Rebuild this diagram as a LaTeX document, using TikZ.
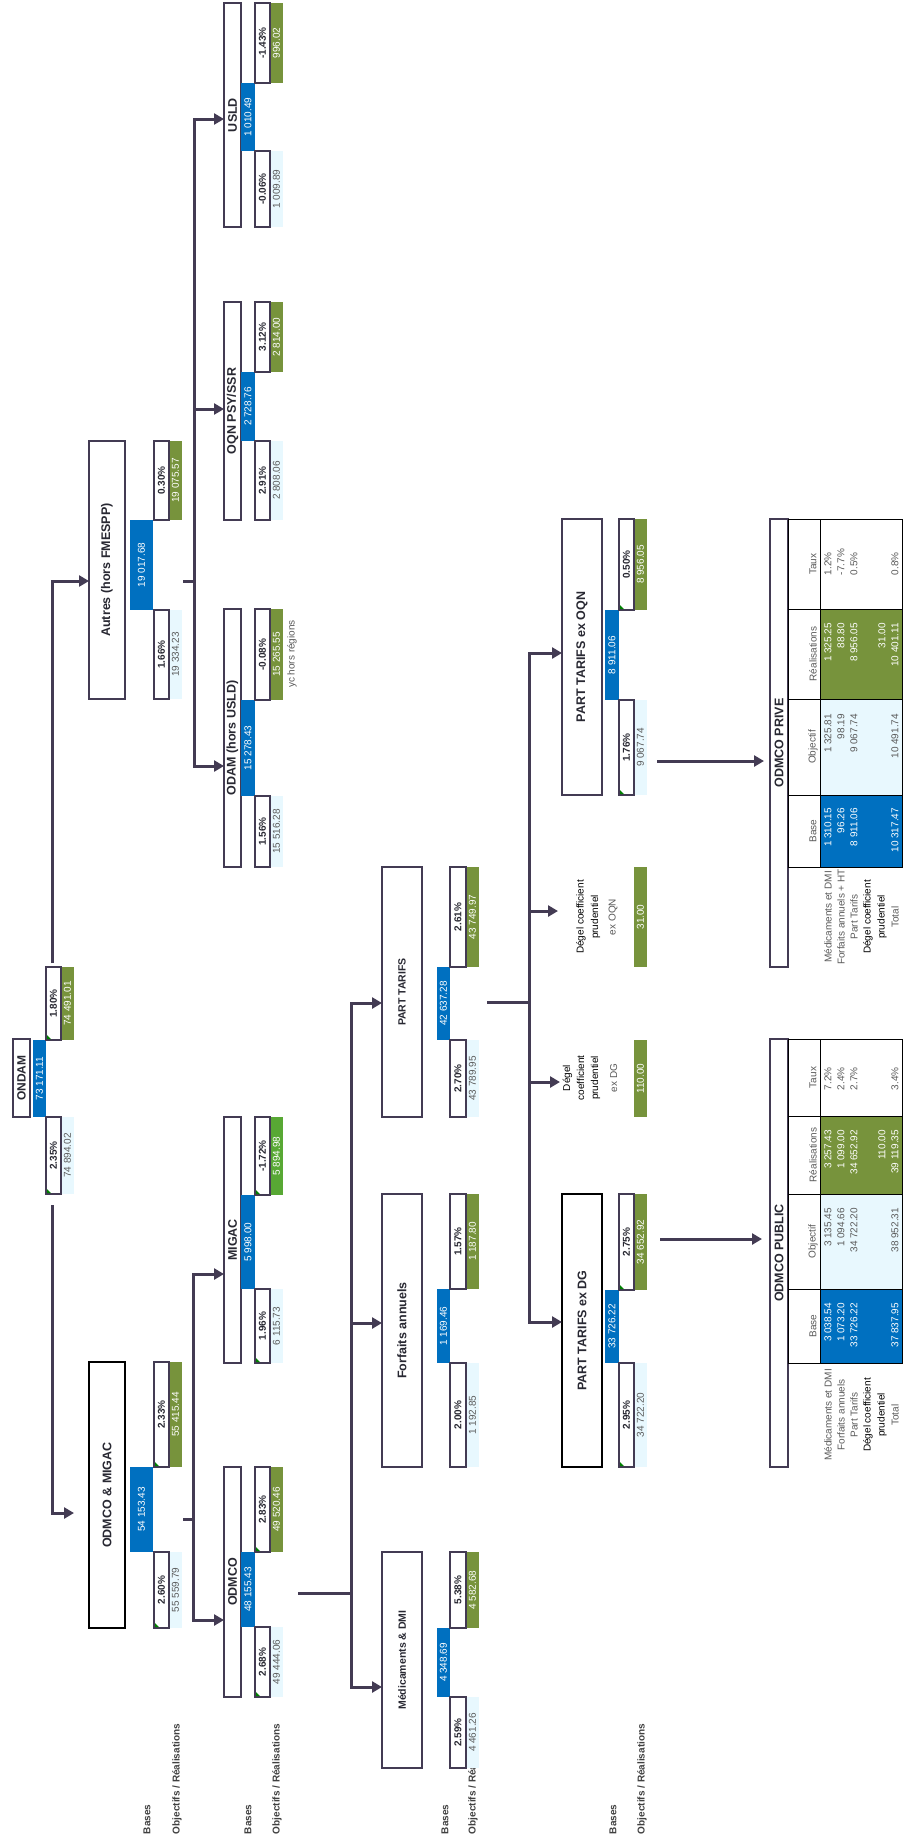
\documentclass[tikz,border=0pt]{standalone}
\usepackage{fontspec}
\setmainfont{Liberation Sans}
\usetikzlibrary{arrows.meta,calc}

\definecolor{linec}{RGB}{67,59,83}
\definecolor{bluec}{RGB}{0,112,192}
\definecolor{greenc}{RGB}{119,147,60}
\definecolor{bgreen}{RGB}{88,168,52}
\definecolor{lbluec}{RGB}{232,248,254}
\definecolor{txtgray}{RGB}{90,90,90}
\definecolor{titc}{RGB}{40,40,50}
\definecolor{lblc}{RGB}{64,64,64}
\definecolor{cmtgreen}{RGB}{0,128,0}

\newcommand\ttlfont{\bfseries\fontsize{12.5}{14}\selectfont}
\newcommand\smtfont{\bfseries\fontsize{10.5}{12}\selectfont}
\newcommand\valfont{\fontsize{10}{12}\selectfont}
\newcommand\pctfont{\bfseries\fontsize{10}{12}\selectfont}
\newcommand\lblfont{\bfseries\fontsize{10}{12}\selectfont}

% generic rotated box: name, x1, x2, y1, y2, style, text
\newcommand\bx[7]{%
 \pgfmathsetmacro\bxw{#5-#4}\pgfmathsetmacro\bxh{#3-#2}%
 \node[box,#6,minimum width=\bxw pt,minimum height=\bxh pt] (#1) at ({(#2+#3)/2},{(#4+#5)/2}) {#7};}
\newcommand\setcols[7]{\def\cTa{#1}\def\cTb{#2}\def\cBa{#3}\def\cBb{#4}\def\cPa{#5}\def\cPb{#6}\def\cDb{#7}}
\newcommand\setys[4]{\def\yA{#1}\def\yB{#2}\def\yC{#3}\def\yD{#4}}
\newcommand\grptitle[3]{\bx{#1}{\cTa}{\cTb}{\yA}{\yD}{tbox,#2}{#3}}
\newcommand\gvals[7]{%
 \bx{#1b}{\cBa}{\cBb}{\yB}{\yC}{bluebox}{#2}%
 \bx{#1du}{\cPb}{\cDb}{\yA}{\yB}{#5}{#4}%
 \bx{#1dl}{\cPb}{\cDb}{\yC}{\yD}{lbbox}{#7}%
 \bx{#1pu}{\cPa}{\cPb}{\yA}{\yB}{pctbox}{#3}%
 \bx{#1pl}{\cPa}{\cPb}{\yC}{\yD}{pctbox}{#6}}
\newcommand\cmts{%
 \fill[cmtgreen] ({\cPa+1},{\yB-1}) -- ++(4,0) -- ++(-4,-4) -- cycle;
 \fill[cmtgreen] ({\cPa+1},{\yD-1}) -- ++(4,0) -- ++(-4,-4) -- cycle;}
% table column: name, y1, y2, header, fill
\newcommand\tcol[5]{%
 \bx{#1h}{788}{820}{#2}{#3}{tcell,fill=white}{}%
 \bx{#1d}{820}{902}{#2}{#3}{tcell,#5}{}%
 \node[txt,font=\valfont,text=txtgray] (#1t) at (813,{(#2+#3)/2}) {#4};}
% table values: prefix, y anchor, style, 5 values
\newcommand\tvals[8]{%
 \node[tv,#3] (#1a) at (828,#2) {#4};
 \node[tv,#3] (#1b) at (841,#2) {#5};
 \node[tv,#3] (#1c) at (854,#2) {#6};
 \node[tv,#3] (#1d) at (882,#2) {#7};
 \node[tv,#3] (#1e) at (895,#2) {#8};}
% table row labels: prefix, y center, 6 labels
\newcommand\tlabels[8]{%
 \node[txt,font=\valfont,text=txtgray] (#1a) at (828,#2) {#3};
 \node[txt,font=\valfont,text=txtgray] (#1b) at (841,#2) {#4};
 \node[txt,font=\valfont,text=txtgray] (#1c) at (854,#2) {#5};
 \node[txt,font=\valfont,text=black] (#1d) at (868,#2) {#6};
 \node[txt,font=\valfont,text=black] (#1e) at (882,#2) {#7};
 \node[txt,font=\valfont,text=txtgray] (#1f) at (895,#2) {#8};}

\begin{document}
\begin{tikzpicture}[x=1pt,y=-1pt,
 box/.style={rotate=90,inner sep=0pt,outer sep=0pt,anchor=center,align=center},
 tbox/.style={draw=linec,line width=1.6pt,fill=white,text=titc,font=\ttlfont},
 bluebox/.style={fill=bluec,text=white,font=\valfont},
 pctbox/.style={draw=linec,line width=1.5pt,fill=white,text=titc,font=\pctfont},
 gbox/.style={fill=greenc,text=white,font=\valfont},
 bgbox/.style={fill=bgreen,text=white,font=\valfont},
 lbbox/.style={fill=lbluec,text=txtgray,font=\valfont},
 tcell/.style={draw=black,line width=0.8pt},
 txt/.style={rotate=90,inner sep=0pt,outer sep=0pt},
 tv/.style={txt,anchor=east,font=\valfont},
 lbl/.style={txt,anchor=west,font=\lblfont,text=lblc},
 arr/.style={draw=linec,line width=3pt,line join=miter,-{Triangle[length=10pt,width=11pt]}},
 ln/.style={draw=linec,line width=3pt}]
\useasboundingbox (0,0) rectangle (904,1840);
\fill[white] (0,0) rectangle (904,1840);

% ---- side labels
\foreach \nm/\xa/\xb in {la/147/177,lb/248/277,lc/445/473,ld/613/642}{
 \node[lbl] (\nm1) at (\xa,1834) {Bases};
 \node[lbl] (\nm2) at (\xb,1834) {Objectifs / Réalisations};}

% ---- coordinates of connectors
\coordinate (o1) at (52,963);   \coordinate (o1c) at (52,581);
\coordinate (o2) at (52,1205);  \coordinate (o2c) at (52,1513); \coordinate (o2e) at (74,1513);
\coordinate (a0) at (183,581);  \coordinate (a1) at (194,581);
\coordinate (aT) at (194,119);  \coordinate (aM) at (194,409);  \coordinate (aB) at (194,766);
\coordinate (m0) at (183,1519); \coordinate (m1) at (193,1519);
\coordinate (mT) at (193,1274); \coordinate (mB) at (193,1620);
\coordinate (d0) at (298,1593); \coordinate (d1) at (351,1593);
\coordinate (dT) at (351,1003); \coordinate (dM) at (351,1323); \coordinate (dB) at (351,1687);
\coordinate (p0) at (487,1002); \coordinate (p1) at (529,1002);
\coordinate (pT) at (529,653);  \coordinate (pM1) at (529,911); \coordinate (pM2) at (529,1082); \coordinate (pB) at (529,1322);
\coordinate (pM1e) at (558,911); \coordinate (pM2e) at (560,1082);
\coordinate (q0) at (657,761);  \coordinate (q1) at (764,761);
\coordinate (r0) at (660,1239); \coordinate (r1) at (762,1239);

% ---- groups
% ONDAM
\setcols{13}{30}{33}{46}{46}{61}{74}
\setys{967}{1040}{1117}{1194}
\bx{ondam}{13}{30}{1039}{1117}{tbox,font=\bfseries\fontsize{12}{14}\selectfont}{ONDAM}
\gvals{ondam}{73 171.11}{1.80\%}{74 491.01}{gbox}{2.35\%}{74 894.02}
\cmts

% Level 1
\setcols{89}{125}{130}{153}{154}{169}{182}
\setys{441}{520}{610}{699}
\grptitle{autres}{}{Autres (hors FMESPP)}
\gvals{autres}{19 017.68}{0.30\%}{19 075.57}{gbox}{1.66\%}{19 334.23}
\setys{1362}{1467}{1552}{1628}
\grptitle{omig}{draw=black}{ODMCO \& MIGAC}
\gvals{omig}{54 153.43}{2.33\%}{55 415.44}{gbox}{2.60\%}{55 559.79}
\cmts

% Level 2
\setcols{224}{241}{241}{255}{255}{270}{283}
\setys{3}{83}{151}{227}
\grptitle{usld}{}{USLD}
\gvals{usld}{1 010.49}{-1.43\%}{996.02}{gbox}{-0.06\%}{1 009.89}
\setys{302}{372}{441}{520}
\grptitle{oqn}{}{OQN PSY/SSR}
\gvals{oqn}{2 728.76}{3.12\%}{2 814.00}{gbox}{2.91\%}{2 808.06}
\setys{609}{700}{796}{867}
\grptitle{odam}{}{ODAM (hors USLD)}
\gvals{odam}{15 278.43}{-0.08\%}{15 265.55}{gbox}{1.56\%}{15 516.28}
\setys{1117}{1195}{1289}{1363}
\grptitle{migac}{}{MIGAC}
\gvals{migac}{5 998.00}{-1.72\%}{5 894.98}{bgbox}{1.96\%}{6 115.73}
\cmts
\setys{1467}{1552}{1627}{1697}
\grptitle{odmco}{}{ODMCO}
\gvals{odmco}{48 155.43}{2.83\%}{49 520.46}{gbox}{2.68\%}{49 444.06}
\cmts

\node[txt,font=\valfont,text=txtgray] (ychr) at (292,654) {yc hors régions};

% Level 3
\setcols{382}{422}{437}{450}{450}{466}{479}
\setys{867}{967}{1040}{1117}
\grptitle{ptar}{font=\smtfont}{PART TARIFS}
\gvals{ptar}{42 637.28}{2.61\%}{43 749.97}{gbox}{2.70\%}{43 789.95}
\setys{1194}{1289}{1363}{1467}
\grptitle{forf}{}{Forfaits annuels}
\gvals{forf}{1 169.46}{1.57\%}{1 187.80}{gbox}{2.00\%}{1 192.85}
\setys{1552}{1628}{1697}{1768}
\grptitle{medic}{font=\smtfont}{Médicaments \& DMI}
\gvals{medic}{4 348.69}{5.38\%}{4 582.68}{gbox}{2.59\%}{4 461.26}

% Level 4
\setcols{562}{602}{605}{619}{619}{634}{647}
\setys{519}{610}{700}{795}
\grptitle{exoqn}{}{PART TARIFS ex OQN}
\gvals{exoqn}{8 911.06}{0.50\%}{8 956.05}{gbox}{1.76\%}{9 067.74}
\cmts
\setys{1194}{1290}{1363}{1467}
\grptitle{exdg}{draw=black}{PART TARIFS ex DG}
\gvals{exdg}{33 726.22}{2.75\%}{34 652.92}{gbox}{2.95\%}{34 722.20}
\cmts

\bx{dgoqn}{634}{647}{867}{967}{gbox}{31.00}
\bx{dgdg}{634}{647}{1040}{1117}{gbox}{110.00}
\node[txt,align=center,font=\fontsize{10}{14.5}\selectfont] (dgoqnT) at (597,917)
  {Dégel coefficient\\prudentiel\\[3pt]\textcolor{txtgray}{ex OQN}};
\node[txt,align=center,font=\fontsize{10}{14}\selectfont] (dgdgT) at (590,1078)
  {Dégel\\coefficient\\prudentiel\\[5pt]\textcolor{txtgray}{ex DG}};

% ---- connectors
\draw[arr] (o1) -- (o1c) -- (o1c -| autres.north);
\draw[arr] (o2) -- (o2c) -- (o2e);
\draw[ln] (a0) -- (a1);
\draw[arr] (aB) -- (aT) -- (aT -| usld.north);
\draw[arr] (aM) -- (aM -| oqn.north);
\draw[arr] (aT) -- (aB) -- (aB -| odam.north);
\draw[ln] (m0) -- (m1);
\draw[arr] (mB) -- (mT) -- (mT -| migac.north);
\draw[arr] (mT) -- (mB) -- (mB -| odmco.north);
\draw[ln] (d0) -- (d1);
\draw[arr] (dB) -- (dT) -- (dT -| ptar.north);
\draw[arr] (dM) -- (dM -| forf.north);
\draw[arr] (dT) -- (dB) -- (dB -| medic.north);
\draw[ln] (p0) -- (p1);
\draw[arr] (pB) -- (pT) -- (pT -| exoqn.north);
\draw[arr] (pM1) -- (pM1e);
\draw[arr] (pM2) -- (pM2e);
\draw[arr] (pT) -- (pB) -- (pB -| exdg.north);
\draw[arr] (q0) -- (q1);
\draw[arr] (r0) -- (r1);

% ---- ODMCO PRIVE table
\bx{prive}{770}{788}{519}{967}{tbox}{ODMCO PRIVE}
\tcol{prT}{519}{609}{Taux}{fill=white}
\tcol{prR}{609}{699}{Réalisations}{fill=greenc}
\tcol{prO}{699}{795}{Objectif}{fill=lbluec}
\tcol{prB}{795}{867}{Base}{fill=bluec}
\tvals{prBv}{808}{text=white}{1 310.15}{96.26}{8 911.06}{}{10 317.47}
\tvals{prOv}{714}{text=txtgray}{1 325.81}{98.19}{9 067.74}{}{10 491.74}
\tvals{prRv}{623}{text=white}{1 325.25}{88.80}{8 956.05}{31.00}{10 401.11}
\tvals{prTv}{575}{text=txtgray,anchor=west}{1.2\%}{-7.7\%}{0.5\%}{}{0.8\%}
\tlabels{prL}{917}{Médicaments et DMI}{Forfaits annuels + HT}{Part Tarifs}{Dégel coefficient}{prudentiel}{Total}

% ---- ODMCO PUBLIC table
\bx{public}{770}{788}{1039}{1467}{tbox}{ODMCO PUBLIC}
\tcol{puT}{1039}{1116}{Taux}{fill=white}
\tcol{puR}{1116}{1194}{Réalisations}{fill=greenc}
\tcol{puO}{1194}{1289}{Objectif}{fill=lbluec}
\tcol{puB}{1289}{1363}{Base}{fill=bluec}
\tvals{puBv}{1303}{text=white}{3 038.54}{1 073.20}{33 726.22}{}{37 837.95}
\tvals{puOv}{1208}{text=txtgray}{3 135.45}{1 094.66}{34 722.20}{}{38 952.31}
\tvals{puRv}{1130}{text=white}{3 257.43}{1 099.00}{34 652.92}{110.00}{39 119.35}
\tvals{puTv}{1090}{text=txtgray,anchor=west}{7.2\%}{2.4\%}{2.7\%}{}{3.4\%}
\tlabels{puL}{1415}{Médicaments et DMI}{Forfaits annuels}{Part Tarifs}{Dégel coefficient}{prudentiel}{Total}
\end{tikzpicture}
\end{document}
